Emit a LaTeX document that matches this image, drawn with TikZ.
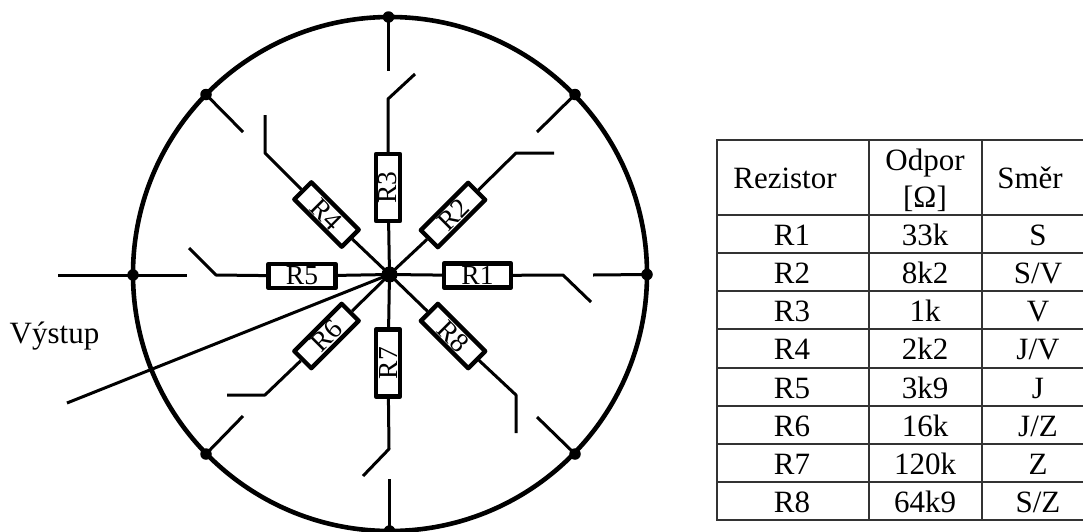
\documentclass[tikz,border=0pt]{standalone}
\usepackage{fontspec}
\setmainfont{Liberation Serif}
\tikzset{
  wire/.style={line width=3pt,line cap=butt,line join=round},
  ring/.style={line width=4.6pt},
  dotn/.style={circle,fill=black,inner sep=0pt,minimum size=#1},
  res/.style={draw,line width=4.4pt,fill=white,minimum width=67pt,minimum height=24pt,inner sep=0pt,font=\fontsize{27.5}{27.5}\selectfont,line join=round},
  grid/.style={line width=1.6pt,draw=black!80},
  cell/.style={anchor=base,inner sep=0pt,font=\fontsize{31}{31}\selectfont},
}
\newcommand{\lowered}[1]{\raisebox{-3.5pt}{#1}}
\begin{document}
\begin{tikzpicture}[x=1pt,y=-1pt]
\useasboundingbox (0,0) rectangle (1083,531);
% centre
\node[dotn=16pt] (c) at (389.5,274.5) {};
% ring
\draw[ring] (390,274) circle [radius=257];
\node[dotn=11.5pt] (n) at (388.5,17) {};
\node[dotn=11.5pt] (s) at (389.5,531) {};
\node[dotn=11.5pt] (e) at (647,274.5) {};
\node[dotn=11.5pt] (w) at (133,275) {};
\node[dotn=11.5pt] (ne) at (575,94.5) {};
\node[dotn=11.5pt] (nw) at (206,94.5) {};
\node[dotn=11.5pt] (se) at (575,454) {};
\node[dotn=11.5pt] (sw) at (206,454) {};
% resistors
\node[res] (R1) at (477.5,275.5) {\lowered{R1}};
\node[res] (R2) at (453,215) [rotate=45] {\lowered{R2}};
\node[res] (R3) at (388,187.5) [rotate=90] {\lowered{R3}};
\node[res] (R4) at (326.5,214.5) [rotate=-45] {\lowered{R4}};
\node[res] (R5) at (302,276) {\lowered{R5}};
\node[res] (R6) at (326.5,336) [rotate=45] {\lowered{R6}};
\node[res] (R7) at (388,363) [rotate=90] {\lowered{R7}};
\node[res] (R8) at (453,336) [rotate=-45] {\lowered{R8}};
% free ends
\coordinate (a1) at (563,275); \coordinate (b1) at (591,302);
\coordinate (a2) at (516,153); \coordinate (b2) at (554,153);
\coordinate (a3) at (388,99);  \coordinate (b3) at (415,74);
\coordinate (a4) at (265,153); \coordinate (b4) at (265,115);
\coordinate (a5) at (216,275); \coordinate (b5) at (189,248);
\coordinate (a6) at (265,395); \coordinate (b6) at (227,395);
\coordinate (a7) at (389,449); \coordinate (b7) at (363,476);
\coordinate (a8) at (516,395); \coordinate (b8) at (516,433);
% wires
\draw[wire] (c.center) -- (R1) (R1) -- (a1) -- (b1);
\draw[wire] (c.center) -- (R2) (R2) -- (a2) -- (b2);
\draw[wire] (c.center) -- (R3) (R3) -- (a3) -- (b3);
\draw[wire] (c.center) -- (R4) (R4) -- (a4) -- (b4);
\draw[wire] (c.center) -- (R5) (R5) -- (a5) -- (b5);
\draw[wire] (c.center) -- (R6) (R6) -- (a6) -- (b6);
\draw[wire] (c.center) -- (R7) (R7) -- (a7) -- (b7);
\draw[wire] (c.center) -- (R8) (R8) -- (a8) -- (b8);
% contact ticks
\coordinate (tn) at (388.5,71);
\coordinate (ts) at (389.5,479);
\coordinate (te) at (593,275);
\coordinate (tw1) at (58,275);
\coordinate (tw2) at (187,275);
\coordinate (tne) at (537,132);
\coordinate (tnw) at (243,132);
\coordinate (tse) at (537,417);
\coordinate (tsw) at (243,416);
\draw[wire] (n.center) -- (tn);
\draw[wire] (s.center) -- (ts);
\draw[wire] (e.center) -- (te);
\draw[wire] (tw1) -- (tw2);
\draw[wire] (ne.center) -- (tne);
\draw[wire] (nw.center) -- (tnw);
\draw[wire] (se.center) -- (tse);
\draw[wire] (sw.center) -- (tsw);
% output
\coordinate (out) at (67,403);
\draw[wire] (c.center) -- (out);
\node[cell] (vystup) at (54.5,343) {Výstup};
% table
\draw[grid] (1083,140) -- (717,140) -- (717,520) -- (1083,520);
\draw[grid] (869,140) -- (869,520);
\draw[grid] (982,140) -- (982,520);
\foreach \yy in {215,253,291,329,368,406,444,482}
  \draw[grid] (717,\yy) -- (1083,\yy);
\node[cell] (h1) at (785,188) {Rezistor};
\node[cell] (h2a) at (925,170) {Odpor};
\node[cell] (h2b) at (925,207) {[Ω]};
\node[cell] (h3) at (1030,188) {Směr};
\foreach \nn/\rr/\vv/\dd/\yy in {1/R1/33k/S/245,2/R2/8k2/S\slash V/283,3/R3/1k/V/321,4/R4/2k2/J\slash V/359,5/R5/3k9/J/398,6/R6/16k/J\slash Z/436,7/R7/120k/Z/474,8/R8/64k9/S\slash Z/512}{
  \node[cell] (r\nn) at (792,\yy) {\rr};
  \node[cell] (o\nn) at (925,\yy) {\vv};
  \node[cell] (d\nn) at (1038,\yy) {\dd};
}
\end{tikzpicture}
\end{document}
